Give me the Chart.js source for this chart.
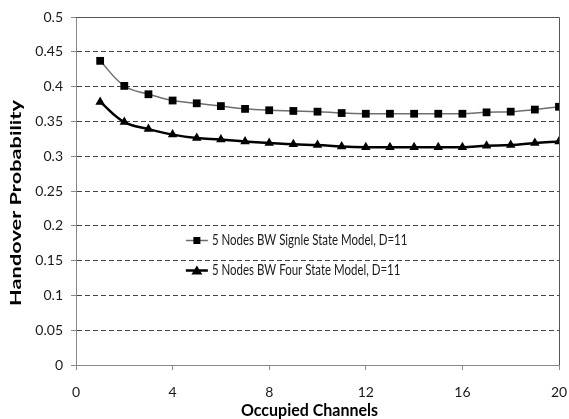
<!DOCTYPE html>
<html>
<head>
<meta charset="utf-8">
<script src="https://cdn.jsdelivr.net/npm/chart.js@4.4.0/dist/chart.umd.min.js"></script>
<style>
  html, body { margin: 0; padding: 0; background: #fff; }
  #wrap { width: 569px; height: 419px; position: relative; }
</style>
</head>
<body>
<div id="wrap"><canvas id="handoverChart"></canvas></div>
<script>
// Occupied channels (x) and handover probability for each model
const channels = [1, 2, 3, 4, 5, 6, 7, 8, 9, 10, 11, 12, 13, 14, 15, 16, 17, 18, 19, 20];
const singleState = [0.437, 0.401, 0.389, 0.380, 0.376, 0.372, 0.368, 0.366, 0.365, 0.364,
                     0.362, 0.361, 0.361, 0.361, 0.361, 0.361, 0.363, 0.364, 0.367, 0.371];
const fourState = [0.378, 0.349, 0.339, 0.331, 0.326, 0.324, 0.321, 0.319, 0.317, 0.316,
                   0.314, 0.313, 0.313, 0.313, 0.313, 0.313, 0.315, 0.316, 0.319, 0.321];
const seriesNames = ["5 Nodes BW Signle State Model, D=11", "5 Nodes BW Four State Model, D=11"];
const xTitle = "Occupied Channels";
const yTitle = "Handover Probability";

const fontFamily = "Lato, 'DejaVu Sans'";
const tickFont = { family: fontFamily, size: 14 };

function toPoints(values) {
  return channels.map((c, i) => ({ x: c, y: values[i] }));
}

// Plot frame (top + right), axis titles and the in-plot legend
const framePlugin = {
  id: "frame",
  afterDraw(chart) {
    const { ctx, chartArea: a, scales } = chart;
    ctx.save();
    ctx.strokeStyle = "#555";
    ctx.lineWidth = 1;
    ctx.beginPath();
    ctx.moveTo(a.left, a.top + 0.5);
    ctx.lineTo(a.right + 0.5, a.top + 0.5);
    ctx.lineTo(a.right + 0.5, a.bottom);
    ctx.stroke();

    // axis titles (the original picture is stretched vertically)
    ctx.fillStyle = "#000";
    ctx.font = "bold 16px " + fontFamily;
    ctx.textAlign = "center";
    ctx.textBaseline = "middle";

    ctx.save();
    ctx.translate((a.left + a.right) / 2 - 8, 410);
    ctx.scale(1, 1.12);
    ctx.fillText(xTitle, 0, 0);
    ctx.restore();

    ctx.save();
    ctx.translate(16, (a.top + a.bottom) / 2 + 12);
    ctx.rotate(-Math.PI / 2);
    ctx.scale(1.36, 1);
    ctx.fillText(yTitle, 0, 0);
    ctx.restore();

    // legend
    ctx.textAlign = "left";
    const lx = scales.x.getPixelForValue(4.55);
    const rows = [scales.y.getPixelForValue(0.18), scales.y.getPixelForValue(0.137)];
    chart.data.datasets.forEach((ds, i) => {
      const y = Math.round(rows[i]) + 0.5;
      ctx.strokeStyle = ds.borderColor;
      ctx.lineWidth = ds.borderWidth;
      ctx.beginPath();
      ctx.moveTo(lx, y);
      ctx.lineTo(lx + 22, y);
      ctx.stroke();
      ctx.fillStyle = "#000";
      const cx = lx + 11;
      if (ds.pointStyle === "rect") {
        ctx.fillRect(cx - 3.5, y - 3.5, 7, 7);
      } else {
        ctx.beginPath();
        ctx.moveTo(cx, y - 5);
        ctx.lineTo(cx + 5.5, y + 4);
        ctx.lineTo(cx - 5.5, y + 4);
        ctx.closePath();
        ctx.fill();
      }
      ctx.save();
      ctx.translate(lx + 26, y);
      ctx.scale(0.82, 1.05);
      ctx.fillStyle = "#1a1a1a";
      ctx.font = "14px " + fontFamily;
      ctx.fillText(ds.label, 0, 0);
      ctx.restore();
    });
    ctx.restore();
  }
};

const ctx = document.getElementById("handoverChart").getContext("2d");
const handoverChart = new Chart(ctx, {
  type: "line",
  data: {
    datasets: [
      {
        label: seriesNames[0],
        data: toPoints(singleState),
        borderColor: "#6e6e6e",
        borderWidth: 1.5,
        pointStyle: "rect",
        pointRadius: 5.5,
        pointBackgroundColor: "#000",
        pointBorderColor: "#000",
        pointBorderWidth: 0,
        tension: 0.4,
      },
      {
        label: seriesNames[1],
        data: toPoints(fourState),
        borderColor: "#000",
        borderWidth: 2.5,
        pointStyle: "triangle",
        pointRadius: 5.5,
        pointBackgroundColor: "#000",
        pointBorderColor: "#000",
        pointBorderWidth: 0,
        tension: 0.4,
      },
    ],
  },
  options: {
    responsive: true,
    maintainAspectRatio: false,
    animation: false,
    layout: { padding: { top: 17, right: 10, left: 0, bottom: 0 } },
    plugins: {
      legend: { display: false },
      tooltip: { enabled: false },
    },
    scales: {
      x: {
        type: "linear",
        min: 0,
        max: 20,
        ticks: { stepSize: 4, color: "#1a1a1a", font: tickFont, padding: 14 },
        grid: {
          color: "transparent",
          tickColor: "#888",
          tickLength: 5,
        },
        border: { color: "#888", width: 1 },
        afterFit(scale) {
          scale.height = 54;
          scale.paddingLeft = 0;
          scale.paddingRight = 0;
        },
      },
      y: {
        min: 0,
        max: 0.5,
        ticks: {
          stepSize: 0.05,
          color: "#1a1a1a",
          font: tickFont,
          padding: 8,
          callback: (v) => String(Number(v.toFixed(2))),
        },
        grid: {
          color: (c) => (c.tick && c.tick.value > 0 && c.tick.value < 0.5 ? "#444" : "transparent"),
          tickColor: "#888",
          tickLength: 5,
        },
        border: { color: "#888", width: 1, dash: [5, 3] },
        afterFit(scale) {
          scale.width = 76;
          scale.paddingTop = 0;
          scale.paddingBottom = 0;
        },
      },
    },
  },
  plugins: [framePlugin],
});
</script>
</body>
</html>
